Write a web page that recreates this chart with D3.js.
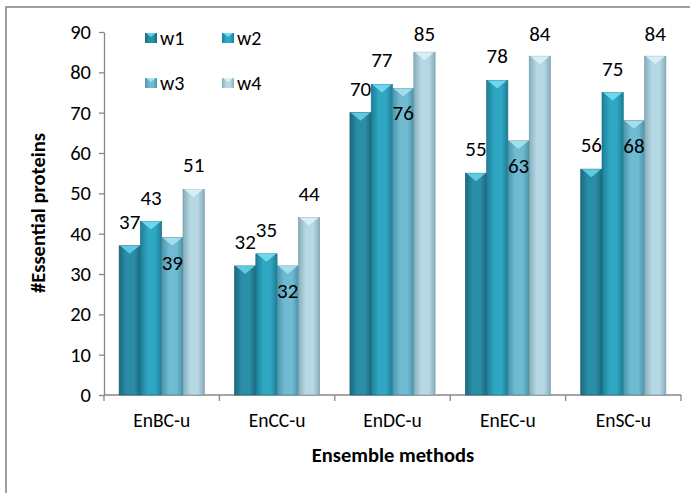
<!DOCTYPE html>
<html>
<head>
<meta charset="utf-8">
<script src="https://cdn.jsdelivr.net/npm/d3@7"></script>
<style>
  body { margin: 0; background: #fff; }
  svg { display: block; font-family: Carlito, Lato, "Noto Sans", sans-serif; }
  .tick text { fill: #000; }
</style>
</head>
<body>
<div id="chart"></div>
<script>
// chart values
var categories = ['EnBC-u', 'EnCC-u', 'EnDC-u', 'EnEC-u', 'EnSC-u'];
var seriesNames = ['w1', 'w2', 'w3', 'w4'];
var w1 = [37, 32, 70, 55, 56];
var w2 = [43, 35, 77, 78, 75];
var w3 = [39, 32, 76, 63, 68];
var w4 = [51, 44, 85, 84, 84];
var yTicks = [0, 10, 20, 30, 40, 50, 60, 70, 80, 90];

var seriesValues = [w1, w2, w3, w4];

// colours per series: edge, middle, top chevron
var palette = {
  w1: { edge: '#1a6a7e', mid: '#2b8ea7', top: '#62d2e8' },
  w2: { edge: '#1d7e96', mid: '#2fa6c2', top: '#74def1' },
  w3: { edge: '#4a95ab', mid: '#70bbd2', top: '#a6e3f0' },
  w4: { edge: '#88aebb', mid: '#b6d8e4', top: '#dcf1f6' }
};

var width = 690, height = 493;
var svg = d3.select('#chart').append('svg')
  .attr('width', width)
  .attr('height', height);

// outer frame (runs past the right and bottom edge)
svg.append('rect')
  .attr('x', 6).attr('y', 7)
  .attr('width', 700).attr('height', 500)
  .attr('fill', 'none')
  .attr('stroke', '#878787')
  .attr('stroke-width', 1.6);

var x = d3.scaleBand().domain(categories).range([104, 681]).padding(0);
var x1 = d3.scaleBand().domain(seriesNames).range([0, x.bandwidth()]).paddingInner(0).paddingOuter(0.71);
var y = d3.scaleLinear().domain([0, 90]).range([395, 32]);

var defs = svg.append('defs');
seriesNames.forEach(function(name) {
  var c = palette[name];
  var g = defs.append('linearGradient').attr('id', 'grad-' + name)
    .attr('x1', '0%').attr('x2', '100%').attr('y1', '0%').attr('y2', '0%');
  g.append('stop').attr('offset', '0%').attr('stop-color', c.edge);
  g.append('stop').attr('offset', '35%').attr('stop-color', c.mid);
  g.append('stop').attr('offset', '70%').attr('stop-color', c.mid);
  g.append('stop').attr('offset', '100%').attr('stop-color', c.edge);
});

// y axis
var yAxis = svg.append('g')
  .attr('transform', 'translate(104,0)')
  .call(d3.axisLeft(y).tickValues(yTicks).tickSize(5).tickPadding(8).tickSizeOuter(0));
yAxis.selectAll('path, line').attr('stroke', '#878787').attr('stroke-width', 1.3);
yAxis.selectAll('text').attr('font-size', 20.5).attr('font-family', 'Carlito, Lato, sans-serif');

// x axis: ticks sit on the band edges
var xAxis = svg.append('g').attr('transform', 'translate(0,395)');
xAxis.append('line')
  .attr('x1', x.range()[0]).attr('x2', x.range()[1])
  .attr('stroke', '#878787').attr('stroke-width', 1.3);
var edges = categories.map(function(c) { return x(c); }).concat([x.range()[1]]);
xAxis.selectAll('line.edge').data(edges).enter().append('line')
  .attr('class', 'edge')
  .attr('x1', function(d) { return d; }).attr('x2', function(d) { return d; })
  .attr('y1', 0).attr('y2', 6)
  .attr('stroke', '#878787').attr('stroke-width', 1.3);
xAxis.selectAll('text.cat').data(categories).enter().append('text')
  .attr('class', 'cat')
  .attr('x', function(d) { return x(d) + x.bandwidth() / 2; })
  .attr('y', 32)
  .attr('text-anchor', 'middle')
  .attr('font-size', 19.5)
  .text(function(d) { return d; });

// bars
var groups = svg.selectAll('g.group').data(categories).enter().append('g')
  .attr('class', 'group')
  .attr('transform', function(d) { return 'translate(' + x(d) + ',0)'; });

var rows = function(ci) {
  return seriesNames.map(function(name, si) {
    return { name: name, value: seriesValues[si][ci] };
  });
};

groups.each(function(cat, ci) {
  var g = d3.select(this);
  var data = rows(ci);
  var bw = x1.bandwidth();

  g.selectAll('rect.bar').data(data).enter().append('rect')
    .attr('class', 'bar')
    .attr('x', function(d) { return x1(d.name); })
    .attr('y', function(d) { return y(d.value); })
    .attr('width', bw)
    .attr('height', function(d) { return y(0) - y(d.value); })
    .attr('fill', function(d) { return 'url(#grad-' + d.name + ')'; })
    .attr('stroke', function(d) { return d3.color(palette[d.name].edge).darker(0.4); })
    .attr('stroke-width', 0.6);

  g.selectAll('path.top').data(data).enter().append('path')
    .attr('class', 'top')
    .attr('d', function(d) {
      var x0 = x1(d.name), t = y(d.value);
      return 'M' + (x0 + 1) + ',' + t + 'L' + (x0 + bw - 1) + ',' + t + 'L' + (x0 + bw / 2) + ',' + (t + 8) + 'Z';
    })
    .attr('fill', function(d) { return palette[d.name].top; })
    .attr('opacity', 0.9);

  g.selectAll('text.val').data(data).enter().append('text')
    .attr('class', 'val')
    .attr('x', function(d) { return x1(d.name) + bw / 2; })
    .attr('y', function(d) {
      var t = y(d.value);
      if (d.name === 'w3') return t + 32;
      return Math.max(t - 17, 41);
    })
    .attr('text-anchor', 'middle')
    .attr('font-size', 21)
    .text(function(d) { return d.value; });
});

// legend
var legend = svg.append('g');
var legendPos = [[145, 38], [222, 38], [145, 83], [222, 83]];
seriesNames.forEach(function(name, i) {
  var p = legendPos[i];
  var item = legend.append('g').attr('transform', 'translate(' + p[0] + ',' + p[1] + ')');
  item.append('rect')
    .attr('x', 0).attr('y', -5).attr('width', 12).attr('height', 10)
    .attr('fill', 'url(#grad-' + name + ')');
  item.append('path')
    .attr('d', 'M1,-5L11,-5L6,-1Z')
    .attr('fill', palette[name].top);
  item.append('text')
    .attr('x', 15).attr('y', 6.5)
    .attr('font-size', 20)
    .text(name);
});

// axis titles
svg.append('text')
  .attr('x', 393).attr('y', 462)
  .attr('text-anchor', 'middle')
  .attr('font-size', 20.5)
  .attr('font-weight', 'bold')
  .text('Ensemble methods');

svg.append('text')
  .attr('transform', 'translate(45,213) rotate(-90)')
  .attr('text-anchor', 'middle')
  .attr('font-size', 20.5)
  .attr('font-weight', 'bold')
  .text('#Essential proteins');
</script>
</body>
</html>
